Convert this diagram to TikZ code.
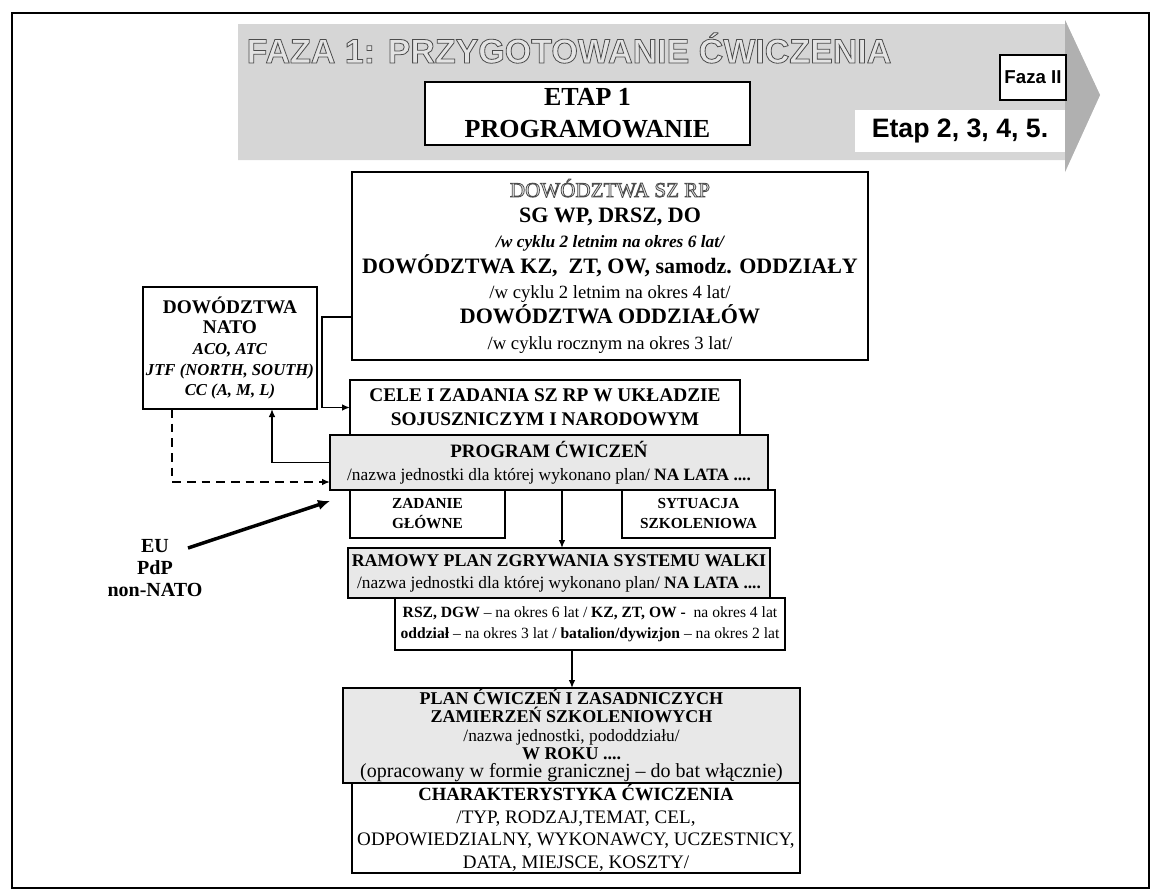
\documentclass[tikz,border=0pt]{standalone}
\usepackage{fontspec}
\setmainfont{Liberation Serif}
\newfontfamily\arial{Liberation Sans}
\usetikzlibrary{arrows.meta}
\newcommand\fsz[2]{\fontsize{#1}{#2}\selectfont}
\newcommand\outl[1]{{\special{pdf:literal direct q 2 Tr 0.6 w}\color{gray!22}\special{pdf:literal direct 0.3 G}#1\special{pdf:literal direct Q}}}
\begin{document}
\begin{tikzpicture}[x=0.75pt,y=-0.75pt,
  box/.style={draw, line width=0.9pt, fill=white, inner sep=0pt, outer sep=0pt, align=center},
  gbox/.style={box, fill=gray!18},
  sz/.style 2 args={minimum width=#1*0.75pt, minimum height=#2*0.75pt},
  arr/.style={line width=1.1pt, -{Latex[length=6pt,width=5pt]}},
  dsh/.style={arr, line width=1.4pt, dash pattern=on 6.5pt off 4.5pt}]
\useasboundingbox (0,0) rectangle (1150,890);
\draw[line width=1.1pt] (12,13) rectangle (1149,888);
% big phase arrow
\fill[gray!32] (238,24) -- (1065,24) -- (1065,20) -- (1100,95) -- (1065,172) -- (1065,160) -- (238,160) -- cycle;
\fill[gray!62] (1065,20) -- (1100,95) -- (1065,172) -- cycle;
\node[font=\arial\bfseries\fsz{25.5}{30}] (title) at (569,48) {\outl{FAZA 1: PRZYGOTOWANIE ĆWICZENIA}};
\node[box, sz={325}{63}, font=\bfseries\fsz{19.5}{24}] (etap) at (587.5,113.5) {ETAP 1\\PROGRAMOWANIE};
\node[box, sz={66}{45}, font=\arial\bfseries\fsz{14}{16}] (faza) at (1033,77.5) {Faza II};
\node[fill=white, inner sep=0pt, sz={210}{42}, font=\arial\bfseries\fsz{20}{24}] (etap2) at (960,131) {Etap 2, 3, 4, 5.};
% main command box
\node[box, sz={516}{188}, font=\fsz{14}{19}] (sz) at (610,266) {
{\fsz{15.8}{19}\outl{DOWÓDZTWA SZ RP}}\\
{\bfseries\fsz{16.5}{19}SG WP, DRSZ, DO}\\
{\bfseries\itshape\fsz{13}{19}/w cyklu 2 letnim na okres 6 lat/}\\
{\bfseries\fsz{16.5}{19}DOWÓDZTWA KZ,\ \ ZT, OW, samodz. ODDZIAŁY}\\
/w cyklu 2 letnim na okres 4 lat/\\
{\bfseries\fsz{16.5}{19}DOWÓDZTWA ODDZIAŁÓW}\\
/w cyklu rocznym na okres 3 lat/};
% NATO
\node[box, sz={174}{122}, font=\fsz{14}{15.5}] (nato) at (230,348) {
{\bfseries\fsz{14.5}{15.5}DOWÓDZTWA}\\
{\bfseries\fsz{14.5}{15.5}NATO}\\
{\bfseries\itshape\fsz{12.5}{15.5}ACO, ATC}\\
{\bfseries\itshape\fsz{12.5}{15.5}JTF (NORTH, SOUTH)}\\
{\bfseries\itshape\fsz{12.5}{15.5}CC (A, M, L)}};
\node[box, sz={390}{55}, font=\bfseries\fsz{14.5}{18}] (cele) at (545,407.5) {CELE I ZADANIA SZ RP W UKŁADZIE\\SOJUSZNICZYM I NARODOWYM};
\node[gbox, sz={438}{55}, font=\fsz{13}{17}] (prog) at (549,462.5) {
{\bfseries\fsz{14.2}{17}PROGRAM ĆWICZEŃ}\\
/nazwa jednostki dla której wykonano plan/ {\bfseries NA LATA ....}};
\node[box, sz={155}{48}, font=\bfseries\fsz{11.5}{15}] (zad) at (427.5,514) {ZADANIE\\GŁÓWNE};
\node[box, sz={153}{48}, font=\bfseries\fsz{11.5}{15}] (syt) at (698.5,514) {SYTUACJA\\SZKOLENIOWA};
\node[gbox, sz={422}{50}, font=\fsz{13}{16.5}] (ram) at (559,573) {
{\bfseries\fsz{13.4}{16.5}RAMOWY PLAN ZGRYWANIA SYSTEMU WALKI}\\
/nazwa jednostki dla której wykonano plan/ {\bfseries NA LATA ....}};
\node[box, sz={390}{52}, font=\fsz{11.7}{16}] (det) at (590,624) {
{\bfseries RSZ, DGW} -- na okres 6 lat / {\bfseries KZ, ZT, OW -}\ \ na okres 4 lat\\
{\bfseries oddział} -- na okres 3 lat / {\bfseries batalion/dywizjon} -- na okres 2 lat};
\node[gbox, sz={457}{95}, font=\fsz{13}{13.6}] (plan) at (571.5,735.5) {
{\bfseries\fsz{13.5}{13.6}PLAN ĆWICZEŃ I ZASADNICZYCH}\\
{\bfseries\fsz{13.5}{13.6}ZAMIERZEŃ SZKOLENIOWYCH}\\
/nazwa jednostki, pododdziału/\\
{\bfseries\fsz{13.5}{13.6}W ROKU ....}\\
{\fsz{15}{13.6}(opracowany w formie granicznej -- do bat włącznie)}};
\node[box, sz={448}{90}, font=\fsz{14.3}{17}] (char) at (576,828) {
{\bfseries\fsz{14}{17}CHARAKTERYSTYKA ĆWICZENIA}\\
/TYP, RODZAJ,TEMAT, CEL,\\
ODPOWIEDZIALNY, WYKONAWCY, UCZESTNICY,\\
DATA, MIEJSCE, KOSZTY/};
\node[align=center, font=\bfseries\fsz{15}{16.5}] (eu) at (155,568) {EU\\PdP\\non-NATO};
% connectors
\coordinate (szA) at (sz.west |- 0,317);
\draw[arr] (szA) -- (322,317) |- (cele.west);
\draw[arr] (prog.west) -| (nato.south -| 272,0);
\draw[dsh] (nato.south -| 172,0) |- (prog.west |- 0,482);
\coordinate (euA) at (188,548);
\coordinate (euB) at (330,501);
\draw[line width=2.6pt, -{Latex[length=9pt,width=8pt]}] (euA) -- (euB);
\draw[arr] (prog.south -| 562,0) -- (ram.north -| 562,0);
\draw[arr] (det.south -| 572,0) -- (plan.north -| 572,0);
\end{tikzpicture}
\end{document}
